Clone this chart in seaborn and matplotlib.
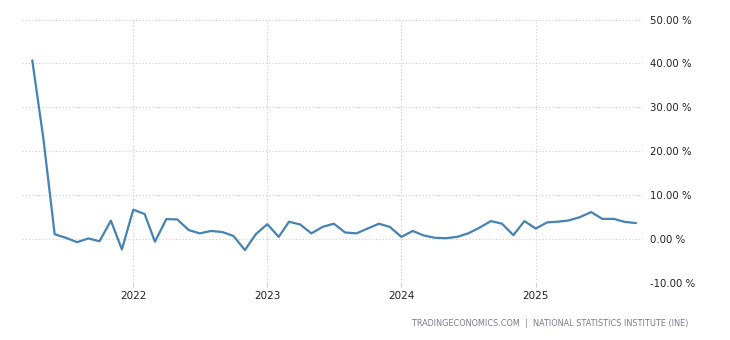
import matplotlib
matplotlib.use("Agg")
import matplotlib.pyplot as plt
import seaborn as sns
import pandas as pd

months = pd.date_range("2021-04-01", "2025-10-01", freq="MS")
values = [
    40.7, 23.0, 1.1, 0.3, -0.7, 0.15, -0.5, 4.2, -2.35,
    6.7, 5.7, -0.6, 4.55, 4.47, 2.05, 1.3, 1.85, 1.6, 0.7, -2.5, 1.15,
    3.4, 0.5, 3.95, 3.3, 1.3, 2.8, 3.5, 1.5, 1.3, 2.4, 3.5, 2.75,
    0.5, 1.85, 0.85, 0.3, 0.2, 0.5, 1.3, 2.6, 4.1, 3.5, 0.9, 4.1,
    2.4, 3.8, 3.95, 4.25, 5.0, 6.15, 4.6, 4.6, 3.9, 3.65,
]
year_ticks = ["2022", "2023", "2024", "2025"]
y_ticks = [50, 40, 30, 20, 10, 0, -10]
source_text = "TRADINGECONOMICS.COM  |  NATIONAL STATISTICS INSTITUTE (INE)"

df = pd.DataFrame({"date": months, "value": values})

sns.set_style("white")
plt.rcParams["font.family"] = ["DejaVu Sans"]

fig = plt.figure(figsize=(7.3, 3.4), dpi=100)
ax = fig.add_axes([22 / 730, (340 - 283) / 340, (643 - 22) / 730, (283 - 19.5) / 340])

sns.lineplot(data=df, x="date", y="value", ax=ax, color="#4682B4", linewidth=1.6)

ax.set_ylim(-10, 50)
ax.set_xlim(pd.Timestamp("2021-03-04"), pd.Timestamp("2025-10-20"))
ax.set_yticks(y_ticks)
ax.set_yticklabels([f"{v:.2f} %" for v in y_ticks])
ax.yaxis.tick_right()
ax.set_xticks([pd.Timestamp(f"{y}-01-01") for y in year_ticks])
ax.set_xticklabels(year_ticks)

ax.grid(True, linestyle=(0, (1, 2)), color="#cfcfcf", linewidth=0.8)
for s in ax.spines.values():
    s.set_visible(False)
ax.tick_params(axis="y", length=0, pad=5, labelsize=7.3, labelcolor="#222222")
ax.tick_params(axis="x", length=3, width=0.8, color="#cccccc", pad=3,
               labelsize=7.5, labelcolor="#222222", direction="out", bottom=True)
ax.set_xlabel("")
ax.set_ylabel("")

fig.text(688 / 730, 1 - 324 / 340, source_text, ha="right", va="center",
         fontsize=5.9, color="#7a7a8a")

fig.savefig("out.png", dpi=100)
